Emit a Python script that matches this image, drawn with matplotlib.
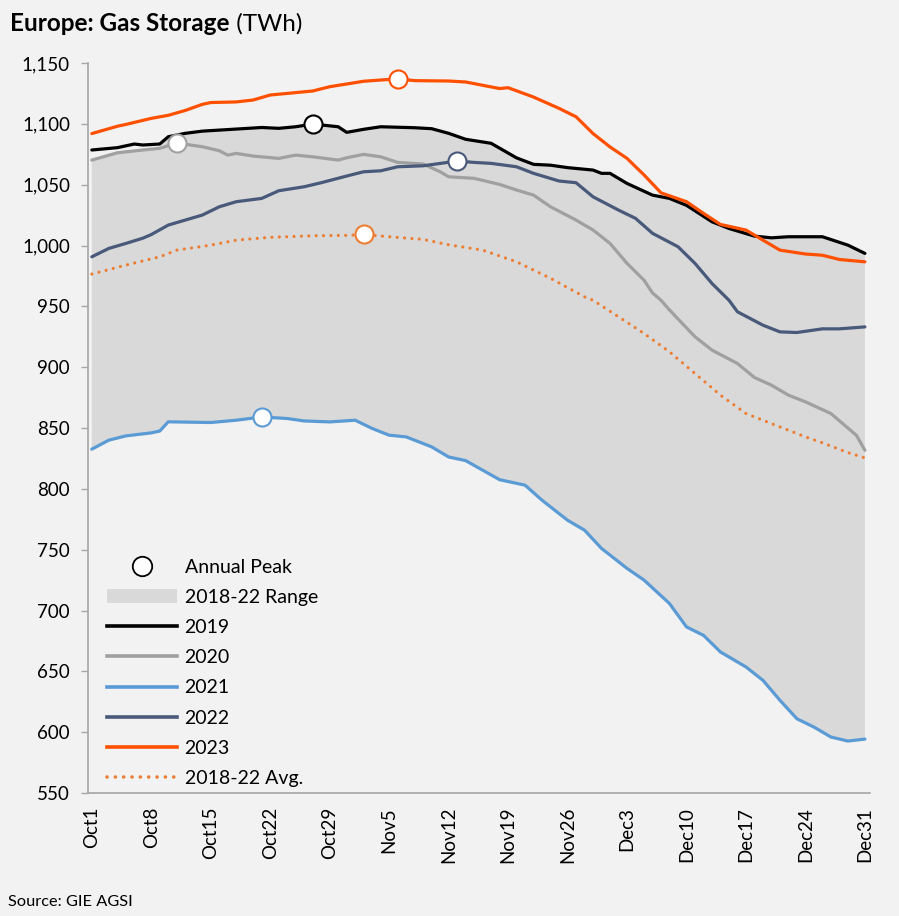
import numpy as np
import matplotlib
matplotlib.use("Agg")
import matplotlib.pyplot as plt
from matplotlib.lines import Line2D
from matplotlib.patches import Patch

plt.rcParams['font.family'] = ['Lato', 'DejaVu Sans']

# days after Oct 1 and storage in TWh
d2019 = [0, 3, 5, 6, 8, 9, 11, 13, 17, 20, 22, 24, 26, 29, 30, 32, 34, 38, 40, 42, 44, 47, 48, 50,
         52, 54, 56, 59, 60, 61, 63, 66, 68, 70, 73, 75, 78, 80, 82, 86, 89, 91]
v2019 = [1078.5, 1080.4, 1083.4, 1082.6, 1083.4, 1089.4, 1092.2, 1094, 1095.7, 1097, 1096.3, 1097.6,
         1099.8, 1097.6, 1093, 1095.5, 1097.6, 1096.8, 1096, 1092.2, 1087.3, 1084, 1080, 1072,
         1066.7, 1066, 1064, 1062, 1059.3, 1059.3, 1051, 1041.4, 1038.7, 1033, 1019.5, 1014,
         1007.7, 1006.3, 1007.2, 1007.2, 1000.3, 993.5]

d2020 = [0, 3, 6, 8, 10, 13, 15, 16, 17, 19, 22, 24, 26, 29, 30, 32, 34, 36, 39, 41, 42, 45, 48,
         50, 52, 54, 57, 59, 61, 63, 65, 66, 67, 68, 71, 73, 76, 78, 80, 82, 84, 87, 90, 91]
v2020 = [1070.2, 1076.2, 1078.5, 1079.9, 1084.2, 1081.2, 1077.9, 1074.3, 1075.7, 1073.5, 1071.6,
         1074.3, 1072.9, 1070.2, 1072.1, 1074.9, 1072.9, 1068.3, 1067, 1060.6, 1056.5, 1055.2,
         1050.2, 1045.6, 1041.4, 1031.8, 1020.9, 1012.7, 1001.7, 985.3, 971.5, 961, 955, 947,
         925, 914, 903, 891.5, 885.2, 877, 871.5, 861.9, 844, 831.7]

d2021 = [0, 2, 4, 7, 8, 9, 14, 17, 20, 23, 25, 28, 31, 33, 35, 37, 40, 42, 44, 48, 51, 53, 56, 58,
         60, 63, 65, 68, 70, 72, 74, 77, 79, 81, 83, 85, 87, 89, 91]
v2021 = [832.6, 840, 843.5, 846, 847.5, 855.1, 854.5, 856.4, 859.1, 857.8, 855.8, 855, 856.4,
         849.6, 844.1, 842.7, 834.5, 826.2, 823.2, 807.5, 803, 790.6, 774.2, 766, 751, 734.6,
         725, 705.7, 686.5, 679.6, 665.9, 653.6, 642.6, 626.2, 611, 604.2, 596, 592.7, 594.3]

d2022 = [0, 2, 4, 6, 7, 9, 11, 13, 15, 17, 20, 22, 25, 27, 30, 32, 34, 36, 39, 43, 45, 47, 50, 52,
         55, 57, 59, 62, 64, 66, 69, 71, 73, 75, 76, 79, 81, 83, 86, 88, 91]
v2022 = [990.7, 997.6, 1001.7, 1006, 1009, 1016.8, 1020.9, 1025, 1031.8, 1036, 1038.7, 1045,
         1048.3, 1051.6, 1057.1, 1060.6, 1061.4, 1064.7, 1065.5, 1069.4, 1068.3, 1067.5, 1064.7,
         1059.3, 1053, 1051.6, 1040, 1029.1, 1022.3, 1010, 999, 985.3, 968.8, 955, 945.5, 934.5,
         929, 928.5, 931.5, 931.5, 933.1]

d2023 = [0, 3, 4, 7, 9, 11, 13, 14, 17, 19, 21, 23, 26, 28, 32, 36, 38, 42, 44, 48, 49, 52, 55,
         57, 59, 61, 63, 65, 67, 70, 72, 74, 77, 79, 81, 84, 86, 88, 91]
v2023 = [1092, 1098, 1099.5, 1104.5, 1107, 1111, 1116, 1117.5, 1118, 1119.6, 1123.7, 1125, 1127,
         1130.5, 1135, 1137, 1135.5, 1135.2, 1134.4, 1129, 1129.7, 1122, 1112.7, 1105.8, 1092,
         1081, 1071.6, 1058, 1043.3, 1036, 1026.4, 1017.3, 1012.7, 1004.4, 996.2, 993, 992,
         988.5, 986.6]

d_avg = [0, 4, 8, 10, 14, 17, 21, 26, 30, 32, 35, 39, 42, 46, 50, 54, 58, 59, 62, 65, 68, 71, 74,
         77, 81, 84, 86, 89, 91]
v_avg = [976.5, 983.9, 990.7, 996.2, 1000.3, 1004.4, 1006.7, 1008, 1008.3, 1009.1, 1007.2, 1005,
         1000.6, 996.2, 986.6, 973, 957.8, 955, 941.4, 927.7, 912.6, 894.8, 877, 861.9, 850.9,
         842.7, 837.8, 829.8, 825.4]

tick_days = [0, 7, 14, 21, 28, 35, 42, 49, 56, 63, 70, 77, 84, 91]
tick_labels = ['Oct1', 'Oct8', 'Oct15', 'Oct22', 'Oct29', 'Nov5', 'Nov12', 'Nov19', 'Nov26',
               'Dec3', 'Dec10', 'Dec17', 'Dec24', 'Dec31']

bg = '#f2f2f2'
fig = plt.figure(figsize=(8.99, 9.16), dpi=100, facecolor=bg)
ax = fig.add_axes([88 / 899, 123 / 916, 782 / 899, 730 / 916], facecolor=bg)

# 2018-22 range: top edge is 2020 for the first days, 2019 after
hi_x = [d for d in d2020 if d <= 8] + [d for d in d2019 if d >= 9]
hi_y = [v for d, v in zip(d2020, v2020) if d <= 8] + [v for d, v in zip(d2019, v2019) if d >= 9]
poly_x = hi_x + d2021[::-1]
poly_y = hi_y + v2021[::-1]
ax.fill(poly_x, poly_y, color='#d9d9d9', lw=0, zorder=1)

series = [
    (d2021, v2021, '#5b9bd5', '-', '2021'),
    (d2020, v2020, '#a0a0a0', '-', '2020'),
    (d2022, v2022, '#48597a', '-', '2022'),
    (d_avg, v_avg, '#ed7d31', (0, (0.01, 2.3)), '2018-22 Avg.'),
    (d2019, v2019, '#000000', '-', '2019'),
    (d2023, v2023, '#ff5000', '-', '2023'),
]
for z, (xs, ys, c, ls, lab) in enumerate(series):
    ax.plot(xs, ys, color=c, ls=ls, lw=2.3, solid_capstyle='round',
            dash_capstyle='round', zorder=3 + z)

# annual peaks
for z, (xs, ys, c, ls, lab) in enumerate(series):
    i = int(np.argmax(ys))
    ax.plot(xs[i], ys[i], 'o', ms=13, mfc='white', mec=c, mew=1.5, zorder=20)

ax.set_xlim(-0.45, 91.6)
ax.set_ylim(550, 1150)
ax.set_yticks(range(550, 1151, 50))
ax.yaxis.set_major_formatter(matplotlib.ticker.FuncFormatter(lambda v, p: f'{int(v):,}'))
ax.set_xticks(tick_days)
ax.set_xticklabels(tick_labels, rotation=90, va='top', ha='center')
ax.tick_params(axis='x', length=0, pad=10, labelsize=13.5)
ax.tick_params(axis='y', length=5, width=1, color='#a6a6a6', pad=8, labelsize=13.5)
for s in ['top', 'right']:
    ax.spines[s].set_visible(False)
for s in ['left', 'bottom']:
    ax.spines[s].set_color('#a6a6a6')
    ax.spines[s].set_linewidth(1.2)

handles = [
    Line2D([], [], marker='o', ls='none', ms=14, mfc='white', mec='black', mew=1.3),
    Patch(fc='#d9d9d9', ec='none'),
    Line2D([], [], color='#000000', lw=2.6),
    Line2D([], [], color='#a0a0a0', lw=2.6),
    Line2D([], [], color='#5b9bd5', lw=2.6),
    Line2D([], [], color='#48597a', lw=2.6),
    Line2D([], [], color='#ff5000', lw=2.6),
    Line2D([], [], color='#ed7d31', lw=2.6, ls=(0, (0.01, 2.3)), dash_capstyle='round'),
]
labels = ['Annual Peak', '2018-22 Range', '2019', '2020', '2021', '2022', '2023', '2018-22 Avg.']
ax.legend(handles, labels, loc='lower left', bbox_to_anchor=(0.024, 0.008), frameon=False,
          fontsize=14, handlelength=3.6, handletextpad=0.4, labelspacing=0.68,
          borderpad=0, borderaxespad=0)

t1 = fig.text(10 / 899, 1 - 31 / 916, 'Europe: Gas Storage', fontsize=17.5, fontweight='bold',
              va='baseline', ha='left')
ax.annotate(' (TWh)', xy=(1, 0), xycoords=t1, fontsize=17.5, va='bottom', ha='left')
fig.text(8 / 899, 1 - 906 / 916, 'Source: GIE AGSI', fontsize=11.8, va='baseline', ha='left')

fig.savefig('out.png', dpi=100, facecolor=bg)
